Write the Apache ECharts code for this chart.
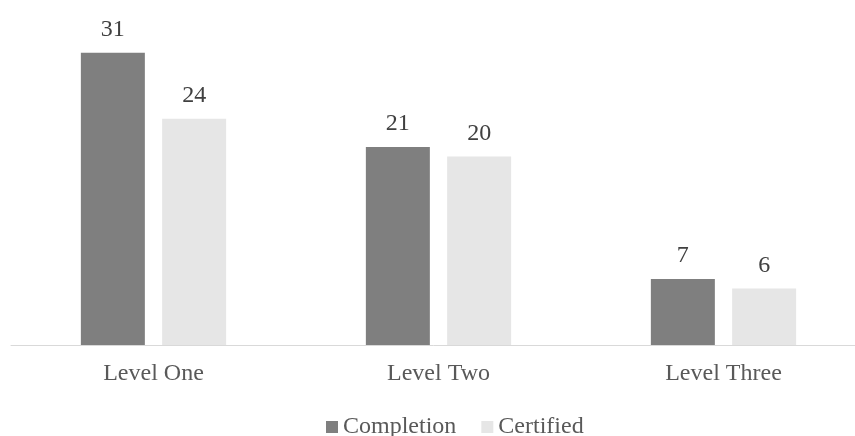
<!DOCTYPE html>
<html><head><meta charset="utf-8">
<script src="https://cdn.jsdelivr.net/npm/echarts@6/dist/echarts.min.js"></script>
<style>html,body{margin:0;padding:0;background:#fff}#c{width:855px;height:436px}</style>
</head><body><div id="c"></div>
<script>
const categories = ['Level One', 'Level Two', 'Level Three'];
const completion = [31, 21, 7];
const certified = [24, 20, 6];
const seriesNames = ['Completion', 'Certified'];

const font = '"Liberation Serif", "Times New Roman", serif';
const chart = echarts.init(document.getElementById('c'), null, {renderer: 'canvas'});
chart.setOption({
  animation: false,
  backgroundColor: '#fff',
  grid: {left: 11, width: 855, top: 15, bottom: 91, containLabel: false, outerBoundsMode: 'none'},
  legend: {
    data: seriesNames,
    top: 410, left: 321,
    itemWidth: 12, itemHeight: 12, itemGap: 25,
    icon: 'rect',
    textStyle: {fontFamily: font, fontSize: 24, color: '#595959'}
  },
  xAxis: {
    type: 'category', data: categories,
    axisLine: {lineStyle: {color: '#d9d9d9', width: 1}},
    axisTick: {show: false},
    axisLabel: {fontFamily: font, fontSize: 24, color: '#595959', margin: 17}
  },
  yAxis: {
    type: 'value', min: 0, max: 35, show: false,
    splitLine: {show: false}
  },
  series: [
    {name: seriesNames[0], type: 'bar', data: completion, barWidth: 64, barGap: '27%',
     itemStyle: {color: '#7f7f7f'},
     label: {show: true, position: 'top', distance: 11, fontFamily: font, fontSize: 24, color: '#404040'}},
    {name: seriesNames[1], type: 'bar', data: certified, barWidth: 64, barGap: '27%',
     itemStyle: {color: '#e6e6e6'},
     label: {show: true, position: 'top', distance: 11, fontFamily: font, fontSize: 24, color: '#404040'}}
  ]
});
</script></body></html>
